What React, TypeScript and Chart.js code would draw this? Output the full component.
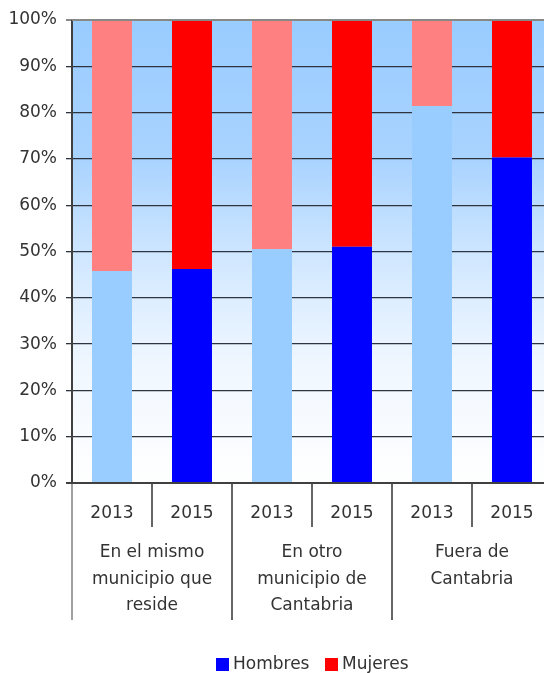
import React, { useEffect, useRef } from "react";
import { Chart, registerables } from "chart.js";
Chart.register(...registerables);

const yearLabels = ["2013", "2015", "2013", "2015", "2013", "2015"];
const groupLabels = [
  ["En el mismo", "municipio que", "reside"],
  ["En otro", "municipio de", "Cantabria"],
  ["Fuera de", "Cantabria"],
];
const hombres = [45.8, 46.2, 50.5, 51.0, 81.4, 70.3];
const mujeres = [54.2, 53.8, 49.5, 49.0, 18.6, 29.7];
const hombresColors = ["#99CCFF", "#0000FF", "#99CCFF", "#0000FF", "#99CCFF", "#0000FF"];
const mujeresColors = ["#FF8080", "#FF0000", "#FF8080", "#FF0000", "#FF8080", "#FF0000"];
const yTicks = [0, 10, 20, 30, 40, 50, 60, 70, 80, 90, 100];

const FONT = "DejaVu Sans";
const TEXT = "#333333";

export default function App() {
  const ref = useRef<HTMLCanvasElement>(null);
  useEffect(() => {
    const canvas = ref.current!;
    const bgPlugin = {
      id: "bg",
      beforeDraw(chart: any) {
        const { ctx, chartArea: a } = chart;
        const g = ctx.createLinearGradient(0, a.top, 0, a.bottom);
        g.addColorStop(0, "#99ccff");
        g.addColorStop(0.3, "#a9d3ff");
        g.addColorStop(0.55, "#d6eaff");
        g.addColorStop(0.75, "#f0f7ff");
        g.addColorStop(1, "#ffffff");
        ctx.save();
        ctx.fillStyle = g;
        ctx.fillRect(a.left, a.top, a.right - a.left, a.bottom - a.top);
        ctx.restore();
      },
    };
    const axisPlugin = {
      id: "axis2",
      afterDraw(chart: any) {
        const { ctx, chartArea: a } = chart;
        const xs = chart.scales.x;
        const n = yearLabels.length;
        const step = (a.right - a.left) / n;
        ctx.save();
        ctx.font = `17px "${FONT}"`;
        ctx.fillStyle = TEXT;
        ctx.textAlign = "center";
        ctx.textBaseline = "middle";
        yearLabels.forEach((l, i) => {
          ctx.fillText(l, xs.getPixelForValue(i), a.bottom + 31);
        });
        ctx.lineWidth = 1.5;
        for (let i = 0; i <= n; i++) {
          const x = a.left + i * step;
          const long = i % 2 === 0;
          ctx.strokeStyle = i === 0 ? "#808080" : "#333333";
          ctx.beginPath();
          ctx.moveTo(x, a.bottom);
          ctx.lineTo(x, long ? a.bottom + 137 : a.bottom + 44);
          ctx.stroke();
        }
        groupLabels.forEach((lines, gi) => {
          const cx = a.left + (gi * 2 + 1) * step;
          lines.forEach((t, li) => {
            ctx.fillText(t, cx, a.bottom + 70 + li * 26.5);
          });
        });
        ctx.strokeStyle = "#404040";
        ctx.lineWidth = 2;
        ctx.beginPath();
        ctx.moveTo(a.left, a.top);
        ctx.lineTo(a.left, a.bottom);
        ctx.stroke();
        ctx.beginPath();
        ctx.moveTo(a.left - 6, a.bottom);
        ctx.lineTo(a.right, a.bottom);
        ctx.stroke();
        ctx.strokeStyle = "#888888";
        ctx.beginPath();
        ctx.moveTo(a.left, a.top);
        ctx.lineTo(a.right, a.top);
        ctx.stroke();
        const ly = 664;
        const items = [
          { label: "Hombres", color: "#0000FF", x: 216 },
          { label: "Mujeres", color: "#FF0000", x: 325 },
        ];
        ctx.font = `17px "${FONT}"`;
        ctx.textAlign = "left";
        items.forEach((it) => {
          ctx.fillStyle = it.color;
          ctx.fillRect(it.x, ly - 6, 13, 13);
          ctx.fillStyle = TEXT;
          ctx.fillText(it.label, it.x + 17, ly + 1);
        });
        ctx.restore();
      },
    };
    const chart = new Chart(canvas, {
      type: "bar",
      data: {
        labels: yearLabels,
        datasets: [
          { label: "Hombres", data: hombres, backgroundColor: hombresColors, barPercentage: 0.5, categoryPercentage: 1 },
          { label: "Mujeres", data: mujeres, backgroundColor: mujeresColors, barPercentage: 0.5, categoryPercentage: 1 },
        ],
      },
      options: {
        responsive: false,
        animation: false,
        layout: { padding: { left: 0, right: 74, top: 20, bottom: 190 } },
        plugins: { legend: { display: false }, tooltip: { enabled: false } },
        scales: {
          x: { stacked: true, display: false },
          y: {
            stacked: true,
            min: 0,
            max: 100,
            afterFit(s: any) {
              s.width = 72;
            },
            afterBuildTicks(s: any) {
              s.ticks = yTicks.map((v) => ({ value: v }));
            },
            border: { display: false },
            grid: {
              color: (c: any) => (c.tick && c.tick.value === 100 ? "#888888" : "#2d3440"),
              lineWidth: (c: any) => (c.tick && c.tick.value === 100 ? 2 : 1.3),
              tickLength: 6,
            },
            ticks: {
              padding: 9,
              color: TEXT,
              font: { family: FONT, size: 17 },
              callback: (v: any) => v + "%",
            },
          },
        },
      },
      plugins: [bgPlugin, axisPlugin],
    });
    return () => chart.destroy();
  }, []);
  return (
    <div style={{ position: "absolute", left: 0, top: 0, width: 544, height: 673, overflow: "hidden", background: "#fff" }}>
      <canvas ref={ref} width={626} height={673} style={{ display: "block" }} />
    </div>
  );
}
